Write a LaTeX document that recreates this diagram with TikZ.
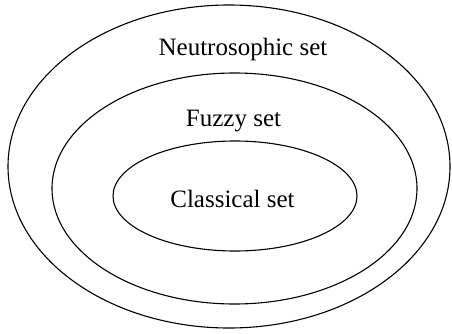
\documentclass[tikz,border=0pt]{standalone}
\usepackage{fontspec}
\setmainfont{Liberation Serif}
\tikzset{
  setline/.style={line width=1.1pt},
  setlabel/.style={font=\fontsize{25}{28}\selectfont, anchor=base, inner sep=0pt}
}
\begin{document}
\begin{tikzpicture}[x=1pt,y=1pt]
  \useasboundingbox (0,0) rectangle (452,333);
  % nested sets
  \draw[setline] (229,166.5) ellipse (221 and 161.5);
  \draw[setline] (234.5,144.5) ellipse (182.5 and 115.5);
  \draw[setline] (235,137) ellipse (122 and 55);
  % labels
  \node[setlabel] (neutro) at (243,278) {Neutrosophic set};
  \node[setlabel] (fuzzy) at (233.5,207) {Fuzzy set};
  \node[setlabel] (classic) at (232.5,126) {Classical set};
\end{tikzpicture}
\end{document}
